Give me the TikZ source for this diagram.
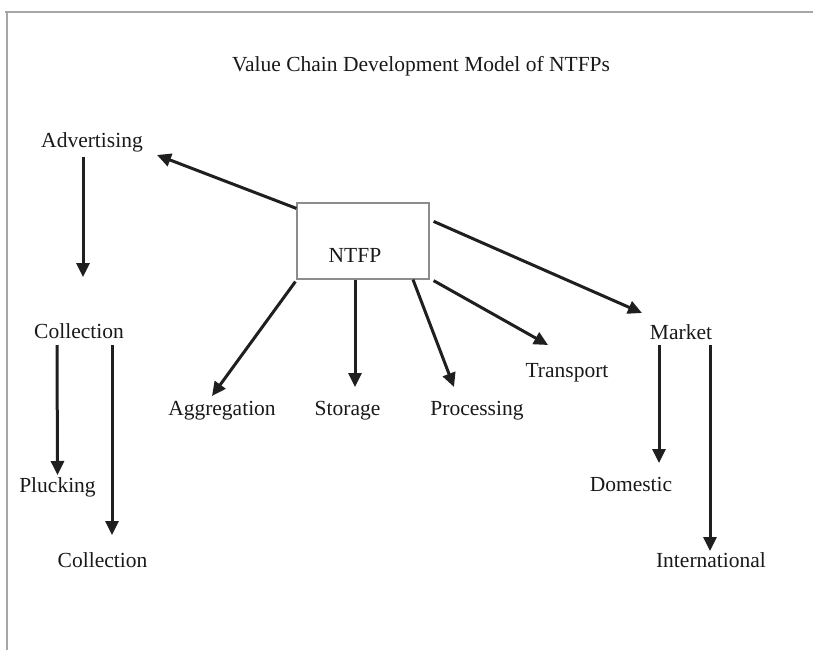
\documentclass[tikz,border=0pt]{standalone}
\usepackage{fontspec}
\setmainfont{Liberation Serif}
\usetikzlibrary{arrows.meta,calc}
\begin{document}
\begin{tikzpicture}[x=1pt,y=-1pt,
    lbl/.style={anchor=base,inner sep=0pt,text=black!90,
        font=\fontsize{21.5}{26}\selectfont},
    arr/.style={-{Triangle[length=14pt,width=13pt]},line width=3pt,
        draw=black!88},
    box/.style={draw=black!45,line width=1.2pt,minimum width=132pt,
        minimum height=76pt,inner sep=0pt}]

    \useasboundingbox (0,0) rectangle (813,650);
    \draw[black!35,line width=1.5pt] (5,12) -- (813,12);
    \draw[black!35,line width=1.5pt] (7,12) -- (7,650);

    % the texts

    \node[lbl] (title) at (421,72) {Value Chain Development Model of NTFPs};
    \node[box] (ntfp) at (363,241) {};
    \node[lbl] (ntfplbl) at (355,262) {NTFP};
    \node[lbl] (adv) at (92,147) {Advertising};
    \node[lbl] (coll) at (79,338) {Collection};
    \node[lbl] (pluck) at (57.5,492) {Plucking};
    \node[lbl] (gather) at (102.5,567) {Collection};
    \node[lbl] (aggr) at (222,415) {Aggregation};
    \node[lbl] (stor) at (347.5,415) {Storage};
    \node[lbl] (proc) at (477,415) {Processing};
    \node[lbl] (trans) at (567,377) {Transport};
    \node[lbl] (mkt) at (681,339) {Market};
    \node[lbl] (dom) at (631,491) {Domestic};
    \node[lbl] (intl) at (711,567) {International};

    % the arrows

    \draw[arr] ($(ntfp.north west)+(0,6)$) -- ($(adv.base)+(65,8)$);
    \draw[arr] ($(adv.base)+(-9,10)$) -- ($(coll.base)+(4,-61)$);
    \draw[arr] ($(coll.base)+(-22,7)$) -- ($(pluck.base)+(0,-17)$);
    \draw[arr] ($(coll.base)+(33,7)$) -- ($(gather.base)+(9.5,-32)$);
    \draw[arr] ($(ntfp.south west)+(-1,2)$) -- ($(aggr.base)+(-10,-19)$);
    \draw[arr] ($(ntfp.south)+(-8,0)$) -- ($(stor.base)+(7.5,-28)$);
    \draw[arr] ($(ntfp.south)+(50,0)$) -- ($(proc.base)+(-23,-28)$);
    \draw[arr] ($(ntfp.south east)+(4,1)$) -- ($(trans.base)+(-19,-32)$);
    \draw[arr] ($(ntfp.north east)+(4,19)$) -- ($(mkt.base)+(-39,-26)$);
    \draw[arr] ($(mkt.base)+(-22,6)$) -- ($(dom.base)+(28,-28)$);
    \draw[arr] ($(mkt.base)+(29,6)$) -- ($(intl.base)+(-1,-16)$);
  \end{tikzpicture}
\end{document}
